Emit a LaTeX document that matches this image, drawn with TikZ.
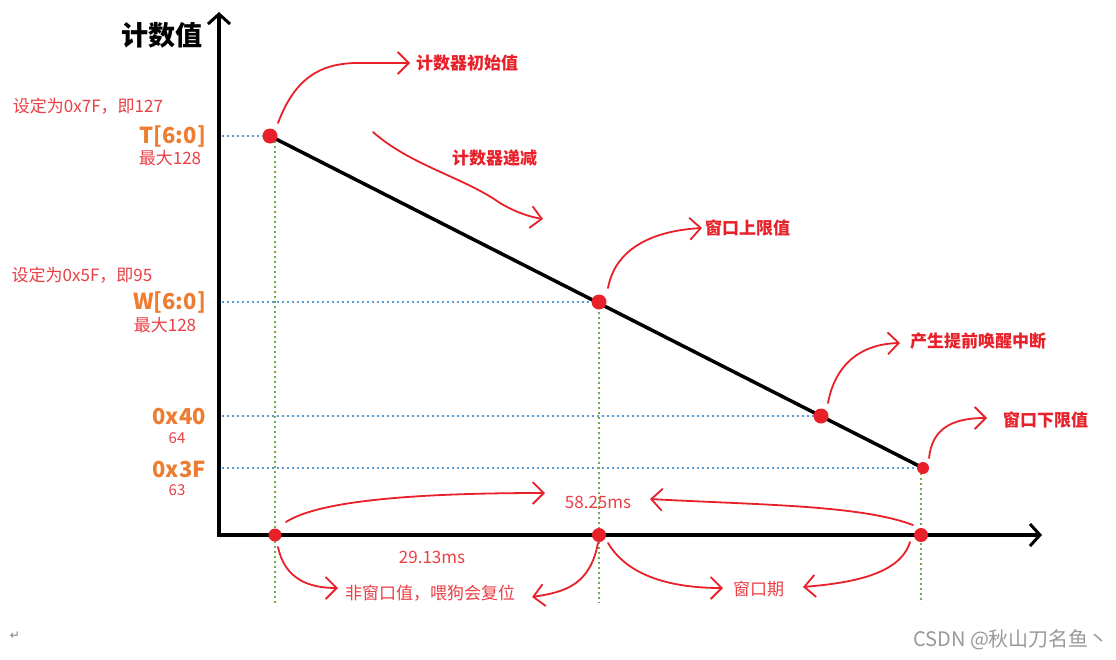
\documentclass[tikz,border=0pt]{standalone}
\usepackage{fontspec}
\setmainfont{Noto Sans CJK SC}
\newfontfamily\dejavu{DejaVu Sans}
\usetikzlibrary{arrows.meta}
\definecolor{hred}{HTML}{E8202A}
\definecolor{tred}{HTML}{EA3F45}
\definecolor{lorange}{HTML}{ED7D31}
\definecolor{lblue}{HTML}{5B9BD5}
\definecolor{lgreen}{HTML}{70AD47}
\newcommand{\fsz}[1]{\fontsize{#1pt}{#1pt}\selectfont}
\begin{document}
\begin{tikzpicture}[x=1pt,y=-1pt,
  axisline/.style={line width=3.5pt,-{Straight Barb[length=10pt,width=22pt,line width=3pt]}},
  curve/.style={draw=black,line width=3.5pt},
  hand/.style={hred,line width=1.8pt,line cap=round,line join=round,-{Straight Barb[length=11pt,width=22pt]}},
  reddot/.style={circle,fill=hred,inner sep=0pt,minimum size=#1},
  reddot/.default=15pt,
  hdots/.style={lblue,line width=2pt,dash pattern=on 2pt off 3pt},
  vdots/.style={lgreen,line width=2pt,dash pattern=on 2pt off 3pt},
  bigtitle/.style={font=\fsz{27}\bfseries,text=black,inner sep=0pt},
  setlab/.style={font=\fsz{17},text=tred,inner sep=0pt},
  reglab/.style={font=\fsz{22}\bfseries,text=lorange,inner sep=0pt,anchor=east},
  smalllab/.style={font=\fsz{15},text=tred,inner sep=0pt},
  annot/.style={font=\fsz{17}\bfseries,text=hred,inner sep=0pt,anchor=west},
  note/.style={font=\fsz{17},text=tred,inner sep=0pt},
  wm/.style={font=\fsz{20},text=black!40,inner sep=0pt,anchor=west}
]
\useasboundingbox (0,0) rectangle (1116,659);
\fill[white] (0,0) rectangle (1116,659);

% axes
\coordinate (origin) at (219,535);
\coordinate (ytop) at (219,12);
\coordinate (xend) at (1042,535);
\draw[axisline] (219,537) -- (ytop);
\draw[axisline] (217,535) -- (xend);
\node[bigtitle] (ylabel) at (162,35) {计数值};

% key point positions
\coordinate (cT) at (270,136);
\coordinate (cW) at (599,302);
\coordinate (c40) at (821,416);
\coordinate (c3F) at (923,468);

% guide lines
\coordinate (hT) at (222,136);
\coordinate (hW) at (222,302);
\coordinate (h40) at (222,416);
\coordinate (h3F) at (222,468);
\draw[hdots] (hT) -- (cT);
\draw[hdots] (hW) -- (cW);
\draw[hdots] (h40) -- (c40);
\draw[hdots] (h3F) -- (c3F);
\coordinate (v1t) at (275,136);
\coordinate (v3t) at (921,468);
\coordinate (v1) at (275,603);
\coordinate (v2) at (599,603);
\coordinate (v3) at (921,603);
\draw[vdots] (v1t) -- (v1);
\draw[vdots] (cW) -- (v2);
\draw[vdots] (v3t) -- (v3);

% counter line
\draw[curve] (cT) -- (c3F);

% dots
\node[reddot] (pT) at (cT) {};
\node[reddot] (pW) at (cW) {};
\node[reddot] (p40) at (c40) {};
\node[reddot=12pt] (p3F) at (c3F) {};
\node[reddot=13pt] (x1) at (275,535) {};
\node[reddot=14pt] (x2) at (599,535) {};
\node[reddot=14pt] (x3) at (921,535) {};

% left labels
\node[setlab] (s7f) at (88,106) {设定为0x7F，即127};
\node[reglab] (lT) at (206,136) {T[6:0]};
\node[setlab] (mT) at (170,158) {最大128};
\node[setlab] (s5f) at (82,275) {设定为0x5F，即95};
\node[reglab] (lW) at (206,302) {W[6:0]};
\node[setlab] (mW) at (165,325) {最大128};
\node[reglab] (l40) at (206,417) {0x40};
\node[smalllab] (n64) at (177,438) {64};
\node[reglab] (l3F) at (206,469) {0x3F};
\node[smalllab] (n63) at (177,490) {63};

% annotations
\node[annot] (aInit) at (416,63) {计数器初始值};
\node[annot] (aDec) at (452,158) {计数器递减};
\node[annot] (aUp) at (705,228) {窗口上限值};
\node[annot] (aEwi) at (910,341) {产生提前唤醒中断};
\node[annot] (aLow) at (1003,420) {窗口下限值};
\node[note] (t58) at (598,502) {58.25ms};
\node[note] (t29) at (432,557) {29.13ms};
\node[note,anchor=west] (tNon) at (345,593) {非窗口值，喂狗会复位};
\node[note,anchor=west] (tWin) at (733,589) {窗口期};
\node[wm] (wmark) at (913,640) {CSDN @秋山刀名鱼丶};
\node[font=\dejavu\fsz{12},text=black!50,inner sep=0pt] (ret) at (15,636) {↵};

% hand-drawn arrows
\coordinate (a1s) at (278,123); \coordinate (a1e) at (410,63);
\draw[hand] (a1s) .. controls (295,78) and (320,64) .. (355,63) -- (a1e);
\coordinate (a2s) at (373,132); \coordinate (a2e) at (543,219);
\draw[hand] (a2s) .. controls (410,165) and (465,178) .. (500,203) .. controls (515,212) and (530,217) .. (a2e);
\coordinate (a3s) at (608,288); \coordinate (a3e) at (702,228);
\draw[hand] (a3s) .. controls (615,250) and (650,231) .. (a3e);
\coordinate (a4s) at (828,403); \coordinate (a4e) at (900,343);
\draw[hand] (a4s) .. controls (835,365) and (860,344) .. (a4e);
\coordinate (a5s) at (929,458); \coordinate (a5e) at (987,418);
\draw[hand] (a5s) .. controls (932,430) and (950,418) .. (a5e);
\coordinate (a6s) at (286,522); \coordinate (a6e) at (545,493);
\draw[hand] (a6s) .. controls (320,500) and (420,493) .. (a6e);
\coordinate (a7s) at (913,525); \coordinate (a7e) at (650,499);
\draw[hand] (a7s) .. controls (860,505) and (760,505) .. (a7e);
\coordinate (a8s) at (278,547); \coordinate (a8e) at (338,588);
\draw[hand] (a8s) .. controls (285,580) and (310,588) .. (a8e);
\coordinate (a9s) at (598,543); \coordinate (a9e) at (532,597);
\draw[hand] (a9s) .. controls (590,585) and (565,592) .. (a9e);
\coordinate (a10s) at (608,543); \coordinate (a10e) at (723,588);
\draw[hand] (a10s) .. controls (630,580) and (680,588) .. (a10e);
\coordinate (a11s) at (910,542); \coordinate (a11e) at (803,587);
\draw[hand] (a11s) .. controls (900,575) and (850,583) .. (a11e);
\end{tikzpicture}
\end{document}
